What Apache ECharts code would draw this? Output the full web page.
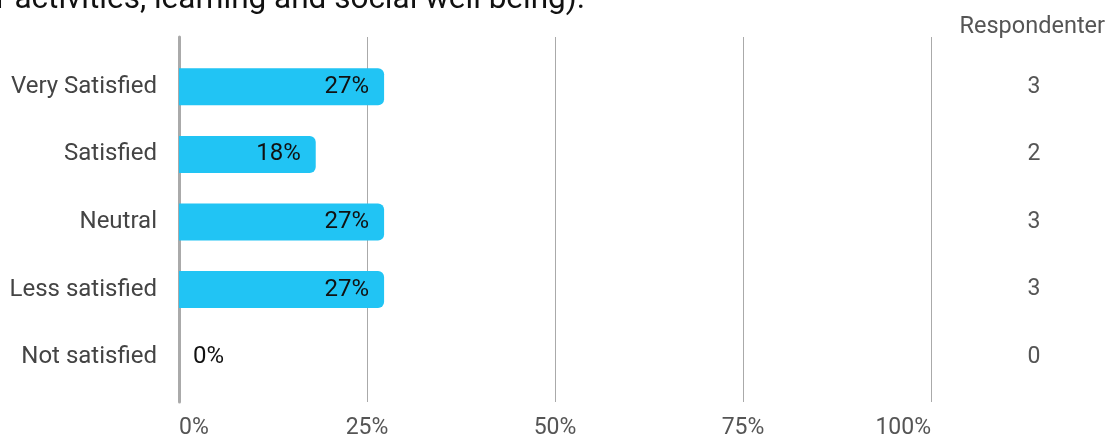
<!DOCTYPE html>
<html>
<head>
<meta charset="utf-8">
<script src="https://cdn.jsdelivr.net/npm/echarts@6/dist/echarts.min.js"></script>
<style>html,body{margin:0;padding:0;background:#fff}#c{width:1109px;height:436px}</style>
</head>
<body>
<div id="c"></div>
<script>
const categories = ['Very Satisfied', 'Satisfied', 'Neutral', 'Less satisfied', 'Not satisfied'];
const respondents = [3, 2, 3, 3, 0];
const total = 11;
const percents = respondents.map(v => v / total * 100);
const xTicks = [0, 25, 50, 75, 100];
const titleText = 'r activities, learning and social well being).';

const FONT = 'Roboto';
const chart = echarts.init(document.getElementById('c'), null, {renderer: 'canvas'});
chart.setOption({
  animation: false,
  textStyle: {fontFamily: FONT},
  graphic: [
    {type: 'text', left: -4, top: -16, style: {text: titleText, font: '31.5px Roboto', fill: '#111'}},
    {type: 'text', right: 4, top: 15, style: {text: 'Respondenter', font: '23.5px Roboto', fill: '#555'}}
  ],
  grid: [
    {left: 179, right: 178, top: 53, bottom: 45, outerBoundsMode: 'none', containLabel: false},
    {left: 179, right: 178, top: 37, bottom: 34, outerBoundsMode: 'none', containLabel: false}
  ],
  xAxis: [
    {gridIndex: 0, type: 'value', min: 0, max: 100, show: false},
    {gridIndex: 1, type: 'value', min: 0, max: 100, interval: 25,
     axisLine: {show: false}, axisTick: {show: false},
     splitLine: {show: true, lineStyle: {color: '#aaa', width: 1}},
     axisLabel: {formatter: v => v + '%', color: '#555', fontSize: 23, margin: 15, fontFamily: FONT,
       alignMinLabel: 'left', alignMaxLabel: 'right'}}
  ],
  yAxis: [
    {gridIndex: 0, type: 'category', data: categories, inverse: true,
     axisLine: {show: false}, axisTick: {show: false}, splitLine: {show: false},
     axisLabel: {color: '#444', fontSize: 24, margin: 22, fontFamily: FONT}},
    {gridIndex: 0, type: 'category', data: respondents.map(String), inverse: true, position: 'right',
     axisLine: {show: false}, axisTick: {show: false}, splitLine: {show: false},
     axisLabel: {color: '#555', fontSize: 23, margin: 103, align: 'center', fontFamily: FONT}},
    {gridIndex: 1, type: 'value', min: 0, max: 1, show: true,
     axisLine: {show: true, lineStyle: {color: '#aaa', width: 3}}, axisTick: {show: false},
     axisLabel: {show: false}, splitLine: {show: false}}
  ],
  series: [{
    type: 'bar', xAxisIndex: 0, yAxisIndex: 0,
    data: percents.map(v => ({
      value: v,
      label: v === 0 ? {position: 'right', distance: 14} : {position: 'insideRight', distance: 15}
    })),
    barWidth: 37,
    itemStyle: {color: '#21c4f4', borderRadius: [0, 6, 6, 0]},
    label: {show: true, formatter: p => Math.round(p.value) + '%', color: '#111', fontSize: 24, fontFamily: FONT},
    z: 3
  }]
});
</script>
</body>
</html>
